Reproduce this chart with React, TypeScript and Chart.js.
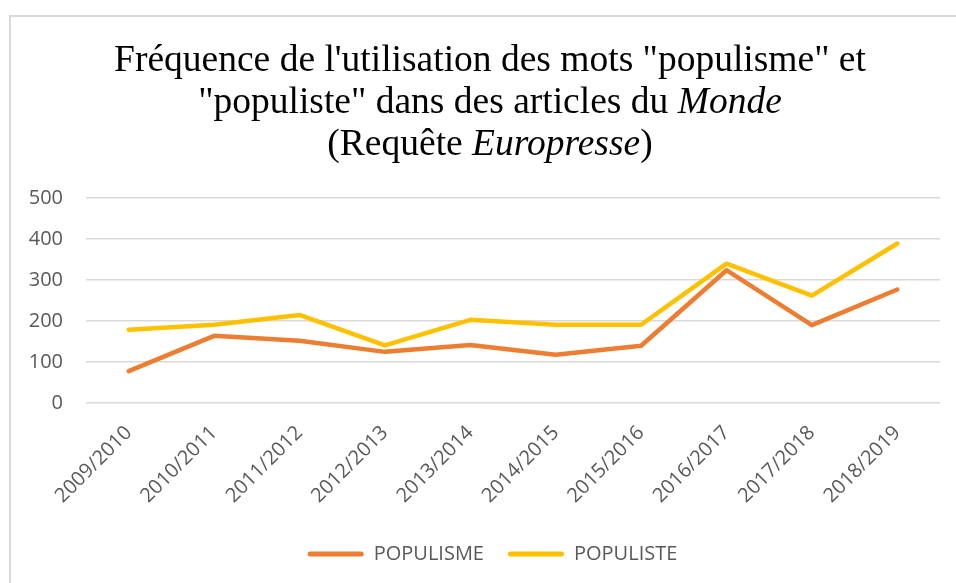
import React, { useEffect, useRef } from "react";
import { Chart, registerables } from "chart.js";

Chart.register(...registerables);

const categories = [
  "2009/2010", "2010/2011", "2011/2012", "2012/2013", "2013/2014",
  "2014/2015", "2015/2016", "2016/2017", "2017/2018", "2018/2019",
];
const populisme = [78, 164, 152, 125, 142, 118, 140, 324, 190, 277];
const populiste = [179, 191, 215, 141, 203, 191, 191, 340, 262, 389];
const yTicks = [0, 100, 200, 300, 400, 500];

const titleLines: { text: string; italic: boolean }[][] = [
  [{ text: "Fréquence de l'utilisation des mots \"populisme\" et", italic: false }],
  [
    { text: "\"populiste\" dans des articles du ", italic: false },
    { text: "Monde", italic: true },
  ],
  [
    { text: "(Requête ", italic: false },
    { text: "Europresse", italic: true },
    { text: ")", italic: false },
  ],
];

const ORANGE = "#ED7D31";
const YELLOW = "#FFC000";
const TEXT = "#595959";
const TICK_FONT = "'Open Sans', sans-serif";

const titlePlugin = {
  id: "richTitle",
  afterLayout(chart: any) {
    if (chart.legend) {
      chart.legend.left += 9;
      chart.legend.right += 9;
    }
  },
  afterDraw(chart: any) {
    const ctx = chart.ctx;
    ctx.save();
    ctx.fillStyle = "#000000";
    ctx.textAlign = "left";
    ctx.textBaseline = "alphabetic";
    const cx = 479;
    const baselines = [54, 96, 138];
    const size = 37.5;
    titleLines.forEach((segs, i) => {
      let total = 0;
      const widths = segs.map((s) => {
        ctx.font = `${s.italic ? "italic " : ""}${size}px 'Liberation Serif', 'Times New Roman', serif`;
        const w = ctx.measureText(s.text).width;
        total += w;
        return w;
      });
      let x = cx - total / 2;
      segs.forEach((s, j) => {
        ctx.font = `${s.italic ? "italic " : ""}${size}px 'Liberation Serif', 'Times New Roman', serif`;
        ctx.fillText(s.text, x, baselines[i]);
        x += widths[j];
      });
    });
    ctx.restore();
  },
};

export default function App() {
  const ref = useRef<HTMLCanvasElement | null>(null);
  useEffect(() => {
    if (!ref.current) return;
    const chart = new Chart(ref.current, {
      type: "line",
      data: {
        labels: categories,
        datasets: [
          {
            label: "POPULISME",
            data: populisme,
            borderColor: ORANGE,
            backgroundColor: ORANGE,
            borderWidth: 4.5,
            borderCapStyle: "round",
            borderJoinStyle: "round",
            pointRadius: 0,
            tension: 0,
          },
          {
            label: "POPULISTE",
            data: populiste,
            borderColor: YELLOW,
            backgroundColor: YELLOW,
            borderWidth: 4.5,
            borderCapStyle: "round",
            borderJoinStyle: "round",
            pointRadius: 0,
            tension: 0,
          },
        ],
      },
      options: {
        animation: false,
        responsive: false,
        maintainAspectRatio: false,
        layout: { padding: { top: 181, left: 16, right: 16, bottom: 9 } },
        plugins: {
          title: { display: false },
          tooltip: { enabled: false },
          legend: {
            position: "bottom",
            labels: {
              boxWidth: 56,
              boxHeight: 5,
              useBorderRadius: true,
              borderRadius: 2.5,
              padding: 24,
              color: TEXT,
              font: { family: TICK_FONT, size: 20 },
              generateLabels: (c: any) =>
                Chart.defaults.plugins.legend.labels
                  .generateLabels(c)
                  .map((l: any) => ({ ...l, lineWidth: 0 })),
            },
          },
        },
        scales: {
          x: {
            offset: true,
            grid: { display: false, drawTicks: false },
            border: { display: false },
            afterFit: (s: any) => {
              s.paddingLeft = 0;
              s.paddingRight = 0;
              s.height = s.height - 6;
            },
            ticks: {
              color: TEXT,
              font: { family: TICK_FONT, size: 20 },
              minRotation: 45,
              maxRotation: 45,
              padding: 18,
            },
          },
          y: {
            min: 0,
            max: 500,
            afterBuildTicks: (s: any) => {
              s.ticks = yTicks.map((v) => ({ value: v }));
            },
            afterFit: (s: any) => {
              s.width = 59;
            },
            grid: { color: "#D9D9D9", lineWidth: 1.5, drawTicks: false },
            border: { display: false },
            ticks: {
              color: TEXT,
              font: { family: TICK_FONT, size: 20 },
              padding: 23,
            },
          },
        },
      },
      plugins: [titlePlugin],
    });
    return () => chart.destroy();
  }, []);

  return (
    <div
      style={{
        position: "fixed",
        left: 0,
        top: 0,
        width: 956,
        height: 583,
        overflow: "hidden",
        background: "#ffffff",
      }}
    >
      <div
        style={{
          position: "absolute",
          left: 9,
          top: 15,
          width: 1000,
          height: 640,
          borderLeft: "2px solid #D9D9D9",
          borderTop: "2px solid #D9D9D9",
        }}
      >
        <canvas ref={ref} width={945} height={566} style={{ display: "block" }} />
      </div>
    </div>
  );
}
